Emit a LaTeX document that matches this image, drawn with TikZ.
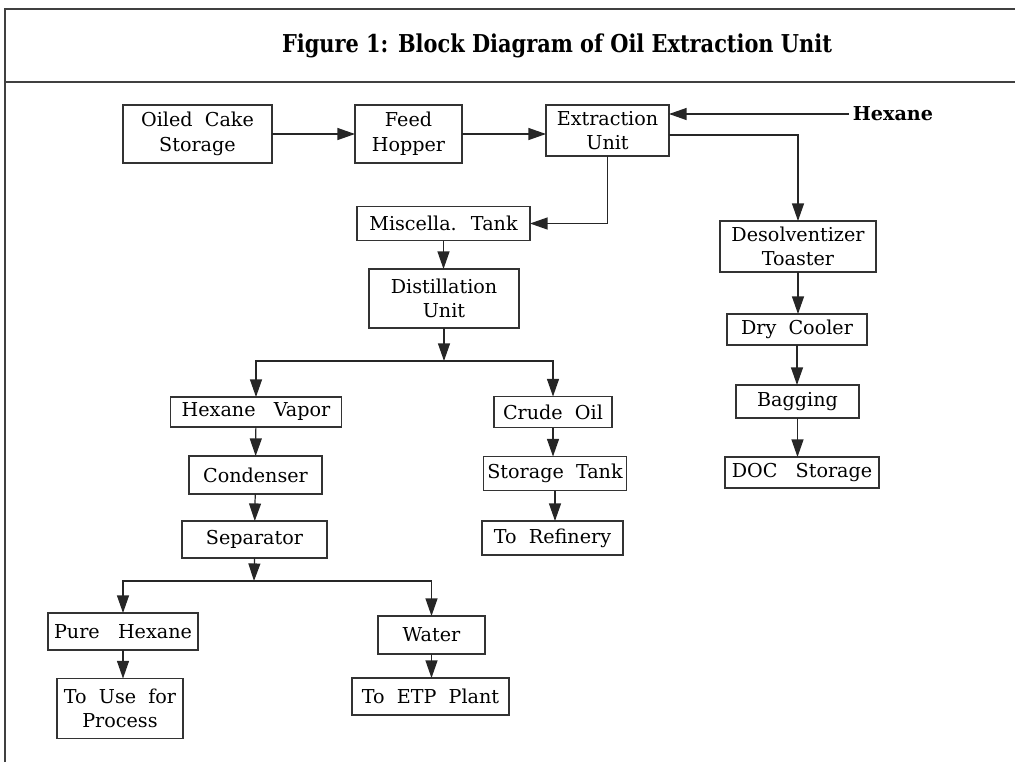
\documentclass[tikz,border=0pt]{standalone}
\usepackage{fontspec}
\setmainfont{DejaVu Serif}
\usepackage{graphicx}
\usetikzlibrary{arrows.meta, positioning, calc}

\begin{document}
\begin{tikzpicture}[x=0.02cm, y=-0.02cm,
  every node/.style={font=\fontsize{10.9}{14}\selectfont},
  blk/.style 2 args={draw=black!80, line width=0.7pt, inner sep=0pt, outer sep=0pt,
    align=center, minimum width=#1cm, minimum height=#2cm},
  flow/.style={draw=black!85, line width=0.7pt, -{Triangle[length=10pt, width=6.8pt]}}]
\useasboundingbox (0,0) rectangle (1015,762);
% frame and title
\draw[black!75, line width=0.8pt] (5,762) -- (5,9) -- (1015,9);
\draw[black!75, line width=0.8pt] (5,82) -- (1015,82);
\node (title) at (557,46) {\resizebox{11cm}{\height}{\fontsize{14}{16}\selectfont\bfseries Figure 1: Block Diagram of Oil Extraction Unit}};
% top row
\node[blk={2.98}{1.16}] (cake) at (197.5,134) {Oiled~ Cake\\Storage};
\node[blk={2.14}{1.16}] (hopper) at (408.5,134) {Feed\\Hopper};
\node[blk={2.46}{1.02}] (extract) at (607.5,130.5) {Extraction\\Unit};
\node[anchor=west, inner sep=2pt] (hexane) at (849,114) {\bfseries Hexane};
% oil branch
\node[blk={3.46}{0.68}] (misc) at (443.5,223.5) {Miscella.~ Tank};
\node[blk={3.00}{1.18}] (distil) at (444,298.5) {Distillation\\Unit};
\coordinate (dj) at (444,361);
\node[blk={3.42}{0.60}] (hvapor) at (256,412) {Hexane~~ Vapor};
\node[blk={2.36}{0.62}] (crude) at (553,412) {Crude~ Oil};
\node[blk={2.66}{0.76}] (condenser) at (255.5,475) {Condenser};
\node[blk={2.90}{0.74}] (separator) at (254.5,539.5) {Separator};
\coordinate (sj) at (254,581);
\node[blk={3.00}{0.74}] (pure) at (123,631.5) {Pure~~ Hexane};
\node[blk={2.52}{1.20}] (touse) at (120,708.5) {To~ Use~ for\\Process};
\node[blk={2.14}{0.76}] (water) at (431.5,635) {Water};
\node[blk={3.14}{0.74}] (etp) at (430.5,696.5) {To~ ETP~ Plant};
\node[blk={2.86}{0.68}] (stank) at (555,473.5) {Storage~ Tank};
\node[blk={2.82}{0.68}] (refinery) at (552.5,538) {To~ Refinery};
% meal branch
\node[blk={3.12}{1.02}] (desolv) at (798,246.5) {Desolventizer\\Toaster};
\node[blk={2.80}{0.62}] (dcooler) at (797,329.5) {Dry~ Cooler};
\node[blk={2.46}{0.66}] (bagging) at (797.5,401.5) {Bagging};
\node[blk={3.08}{0.62}] (docst) at (802,472.5) {DOC~~ Storage};

% connectors
\draw[flow] (cake) -- (hopper);
\draw[flow] (hopper.east) -- (hopper.east -| extract.west);
\draw[flow] (hexane.west) -- (hexane.west -| extract.east);
\draw[flow] ([yshift=-0.09cm]extract.east) -| (desolv.north);
\draw[flow] (extract.south) |- (misc.east);
\draw[flow] (misc.south) -- (misc.south |- distil.north);
\draw[flow] (distil.south) -- (dj);
\draw[flow] (dj) -| (hvapor.north);
\draw[flow] (dj) -| (crude.north);
\draw[flow] (hvapor) -- (condenser);
\draw[flow] (condenser) -- (separator);
\draw[flow] (separator.south) -- (sj);
\draw[flow] (sj) -| (pure.north);
\draw[flow] (sj) -| (water.north);
\draw[flow] (pure.south) -- (pure.south |- touse.north);
\draw[flow] (water.south) -- (water.south |- etp.north);
\draw[flow] (crude.south) -- (crude.south |- stank.north);
\draw[flow] (stank.south) -- (stank.south |- refinery.north);
\draw[flow] (desolv.south) -- (desolv.south |- dcooler.north);
\draw[flow] (dcooler.south) -- (dcooler.south |- bagging.north);
\draw[flow] (bagging.south) -- (bagging.south |- docst.north);
\end{tikzpicture}
\end{document}
